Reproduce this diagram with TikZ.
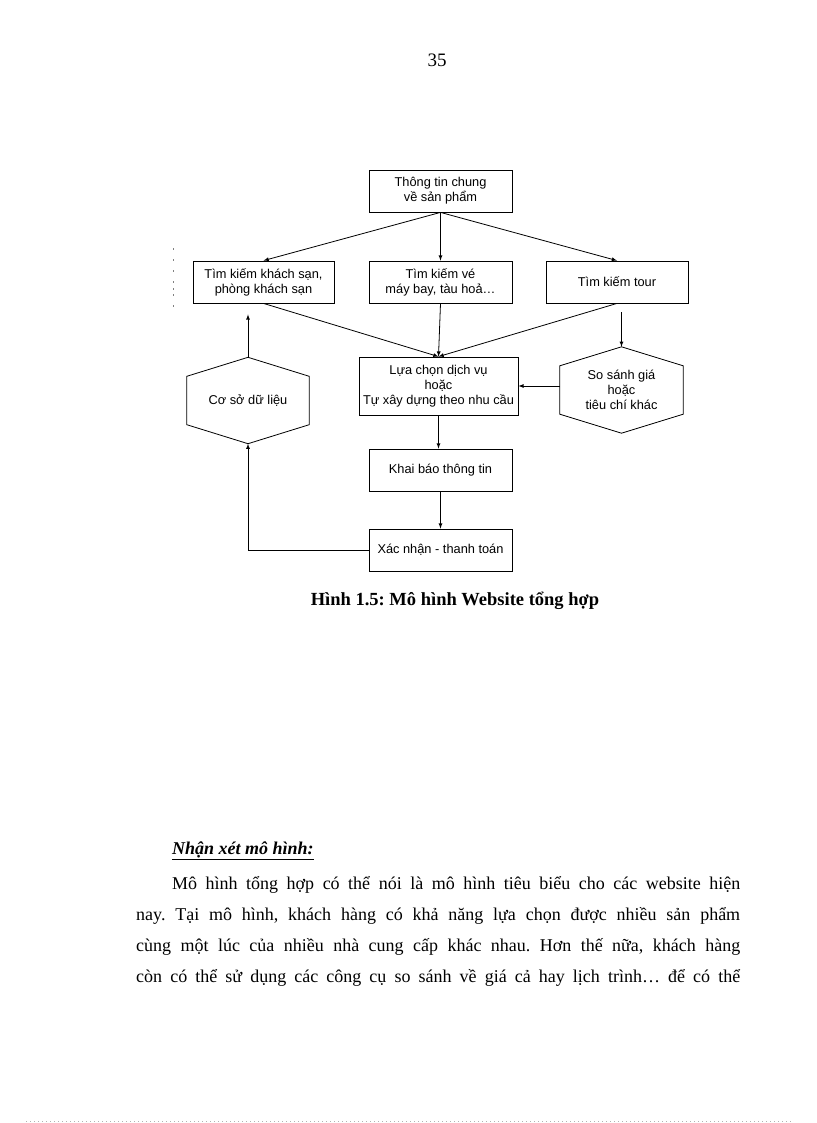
\documentclass[tikz,border=0pt]{standalone}
\usepackage{fontspec}
\setmainfont{Liberation Serif}
\setsansfont{Liberation Sans}
\usetikzlibrary{calc}
\frenchspacing

\newcommand{\hexpath}[1]% node name
{(#1.north) -- ($(#1.north east)+(0,19)$) -- ($(#1.south east)+(0,-19)$) -- (#1.south) -- ($(#1.south west)+(0,-19)$) -- ($(#1.north west)+(0,19)$) -- cycle
}
\newcommand{\boxfont}{\sffamily\fontsize{12.8}{15}\selectfont}
\newcommand{\bodyfont}{\fontsize{18}{21}\selectfont}

\begin{document}
\begin{tikzpicture}[x=1pt, y=-1pt,
  box/.style={draw, line width=0.8pt, align=center, font=\boxfont, inner sep=2pt, minimum width=143pt, minimum height=42pt},
  hexnode/.style={align=center, font=\boxfont, inner sep=0pt, minimum width=122pt, minimum height=86pt},
  arr/.style={-latex, line width=0.8pt},
  txt/.style={inner sep=0pt, font=\bodyfont}]

\fill[white] (0,0) rectangle (816,1123);
\useasboundingbox (0,0) rectangle (816,1123);

\node[txt, font=\fontsize{19}{22}\selectfont, anchor=base] (pagenum) at (437,66.5) {35};

% boxes
\node[box] (info) at (440.5,191) {Thông tin chung\\về sản phẩm};
\node[box, minimum width=141pt] (hotel) at (263.5,282) {Tìm kiếm khách sạn,\\phòng khách sạn};
\node[box] (ticket) at (440.5,282) {Tìm kiếm vé\\máy bay, tàu hoả…};
\node[box, minimum width=142pt] (tour) at (617,282) {Tìm kiếm tour};
\node[box, minimum width=159pt, minimum height=58pt] (luachon) at (438.5,386) {Lựa chọn dịch vụ\\hoặc\\Tự xây dựng theo nhu cầu};
\node[box] (khaibao) at (440.5,470) {Khai báo thông tin};
\node[box] (xacnhan) at (440.5,550) {Xác nhận - thanh toán};

\node[hexnode] (csdl) at (248,400.5) {Cơ sở dữ liệu};
\node[hexnode, minimum width=123pt] (sosanh) at (621.5,390) {So sánh giá\\hoặc\\tiêu chí khác};
\draw[line width=0.8pt] \hexpath{csdl};
\draw[line width=0.8pt] \hexpath{sosanh};

% arrows
\draw[arr] (info.south) -- (hotel.north);
\draw[arr] (info.south) -- (ticket.north);
\draw[arr] (info.south) -- (tour.north);
\draw[arr] (hotel.south) -- (luachon.north);
\draw[arr] (ticket.south) -- (luachon.north);
\draw[arr] (tour.south) -- (luachon.north);
\draw[arr, shorten <=9pt] (tour.south -| sosanh.north) -- (sosanh.north);
\draw[arr] (sosanh.west |- luachon.east) -- (luachon.east);
\draw[arr, shorten >=11pt] (csdl.north) -- (hotel.south -| csdl.north);
\draw[arr] (luachon.south) -- (luachon.south |- khaibao.north);
\draw[arr] (khaibao.south) -- (xacnhan.north);
\draw[arr] (xacnhan.west) -| (csdl.south);

\foreach \y in {249,260,271,282,289,295,306}
  \fill[gray] (172.5,\y-1) rectangle (173.7,\y+1);

\node[inner sep=0pt, font=\fontsize{18.5}{22}\selectfont\bfseries, anchor=base] (caption) at (455,605) {Hình 1.5: Mô hình Website tổng hợp};

% text below
\node[txt, anchor=base west] (heading) at (172,854) {\bfseries\itshape\underline{Nhận xét mô hình:}};
\node[txt, anchor=base west] (line1) at (172,889.5) {\makebox[568pt][s]{Mô hình tổng hợp có thể nói là mô hình tiêu biểu cho các website hiện}};
\node[txt, anchor=base west] (line2) at (136,920.5) {\makebox[604pt][s]{nay. Tại mô hình, khách hàng có khả năng lựa chọn được nhiều sản phẩm}};
\node[txt, anchor=base west] (line3) at (136,951.5) {\makebox[604pt][s]{cùng một lúc của nhiều nhà cung cấp khác nhau. Hơn thế nữa, khách hàng}};
\node[txt, anchor=base west] (line4) at (136,982.5) {\makebox[604pt][s]{còn có thể sử dụng các công cụ so sánh về giá cả hay lịch trình… để có thể}};

\draw[gray!60, line width=0.8pt, dash pattern=on 0.8pt off 3.2pt] (26,1121) -- (792,1121);

\end{tikzpicture}
\end{document}
